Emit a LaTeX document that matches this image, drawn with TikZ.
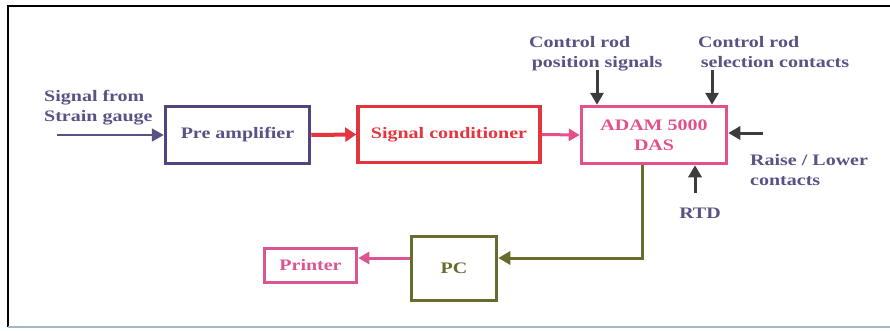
\documentclass[tikz,border=0pt]{standalone}
\usepackage{fontspec}
\setmainfont{Liberation Serif}[FakeStretch=1.25]
\usetikzlibrary{arrows.meta}
\definecolor{slate}{HTML}{5A5284}
\definecolor{preblue}{HTML}{52447E}
\definecolor{redc}{HTML}{E4343E}
\definecolor{pinkc}{HTML}{E4508A}
\definecolor{printc}{HTML}{DA5690}
\definecolor{greenc}{HTML}{676B2E}
\definecolor{darkc}{HTML}{3C3C3C}
\definecolor{framebl}{HTML}{A4B8CC}
\tikzset{
  txt/.style={font=\bfseries\fontsize{16}{20}\selectfont, inner sep=0pt},
  lbl/.style={txt, text=slate, align=left, anchor=north west},
  blk/.style={txt, draw, rectangle, line width=3.5pt},
  tip/.style={-{Triangle[length=12pt,width=13pt]}},
}
\begin{document}
\begin{tikzpicture}[x=1pt,y=-1pt]
\useasboundingbox (0,0) rectangle (890,330);
% frame
\draw[line width=2.5pt, black] (8,327) -- (8,6) -- (890,6);
\draw[line width=2pt, framebl] (8,327) -- (890,327);
% blocks
\node[blk, draw=preblue, text=slate, minimum width=144pt, minimum height=57pt] (pre) at (237.5,135) {Pre amplifier};
\node[blk, draw=redc, text=redc, minimum width=182pt, minimum height=56pt] (sc) at (449,134.5) {Signal conditioner};
\node[blk, draw=pinkc, text=pinkc, align=center, minimum width=145pt, minimum height=57pt] (adam) at (654,135) {ADAM 5000\\DAS};
\node[blk, draw=printc, text=printc, minimum width=92pt, minimum height=34pt] (printer) at (310.5,265.5) {Printer};
\node[blk, draw=greenc, text=greenc, minimum width=85pt, minimum height=64pt] (pc) at (454,268.5) {PC};
% labels
\node[lbl] (sig) at (44,90) {Signal from\\Strain gauge};
\node[lbl] (crp) at (529,36) {Control rod\\\,position signals};
\node[lbl] (crs) at (698,36) {Control rod\\\,selection contacts};
\node[lbl] (rl) at (750,154) {Raise / Lower\\contacts};
\node[txt, text=slate] (rtd) at (700,213) {RTD};
% connectors
\coordinate (in) at (57,135);
\draw[tip, slate, line width=1.8pt] (in) -- (pre.west);
\draw[-{Triangle[length=11pt,width=14pt]}, redc, line width=4pt] (pre.east) -- (sc.west);
\draw[-{Triangle[length=11pt,width=12pt]}, pinkc, line width=3pt] (sc.east) -- (adam.west);
\coordinate (c1) at (597,70);
\coordinate (c2) at (712,70);
\coordinate (c3) at (763,133);
\coordinate (c4) at (695,193);
\draw[tip, darkc, line width=3pt] (c1) -- (c1 |- adam.north);
\draw[tip, darkc, line width=3pt] (c2) -- (c2 |- adam.north);
\draw[tip, darkc, line width=3pt] (c3) -- (c3 -| adam.east);
\draw[tip, darkc, line width=3pt] (c4) -- (c4 |- adam.south);
\coordinate (d) at (642,258);
\draw[tip, greenc, line width=3pt] (d |- adam.south) -- (d) -- (d -| pc.east);
\draw[-{Triangle[length=11pt,width=12pt]}, printc, line width=3pt] (d -| pc.west) -- (d -| printer.east);
\end{tikzpicture}
\end{document}
